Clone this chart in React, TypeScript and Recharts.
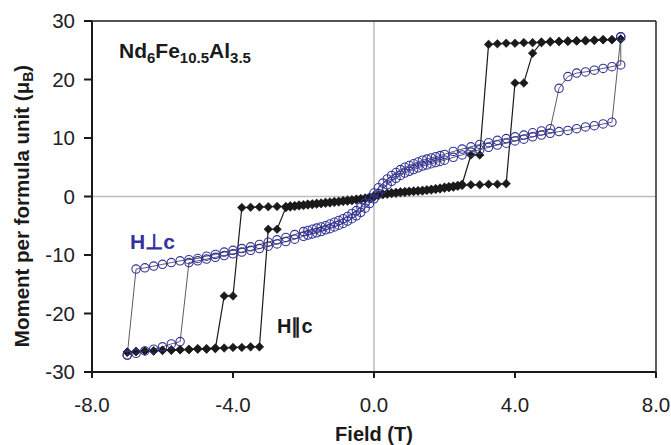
import React from "react";
import { ScatterChart, Scatter, XAxis, YAxis, ReferenceLine } from "recharts";

// [field (T), moment (μB/f.u.)] in measurement order
const parallelDown: [number, number][] = [
  [7.0, 26.9], [6.75, 26.8], [6.5, 26.8], [6.25, 26.7], [6.0, 26.7], [5.75, 26.6], [5.5, 26.6], [5.25, 26.5],
  [5.0, 26.5], [4.75, 26.4], [4.5, 26.3], [4.25, 26.3], [4.0, 26.2], [3.75, 26.2], [3.5, 26.1], [3.25, 26.0],
  [3.0, 7.1], [2.75, 7.1],
  [2.5, 2.1], [2.375, 1.9], [2.25, 1.8], [2.125, 1.7], [2.0, 1.6], [1.875, 1.45], [1.75, 1.35], [1.625, 1.25],
  [1.5, 1.15], [1.375, 1.05], [1.25, 1.0], [1.125, 0.95], [1.0, 0.9], [0.875, 0.85], [0.75, 0.8], [0.625, 0.7],
  [0.5, 0.65], [0.375, 0.55], [0.25, 0.45], [0.125, 0.3], [0, 0.15], [-0.125, -0.1], [-0.25, -0.25], [-0.375, -0.35],
  [-0.5, -0.45], [-0.625, -0.55], [-0.75, -0.6], [-0.875, -0.7], [-1.0, -0.8], [-1.125, -0.85], [-1.25, -0.95],
  [-1.375, -1.0], [-1.5, -1.1], [-1.625, -1.15], [-1.75, -1.25], [-1.875, -1.3], [-2.0, -1.4], [-2.125, -1.45],
  [-2.25, -1.55], [-2.375, -1.6], [-2.5, -1.7], [-2.75, -1.7], [-3.0, -1.75], [-3.25, -1.8], [-3.5, -1.85], [-3.75, -1.9],
  [-4.0, -17.0], [-4.25, -17.0],
  [-4.5, -26.0], [-4.75, -26.1], [-5.0, -26.1], [-5.25, -26.2], [-5.5, -26.2], [-5.75, -26.3], [-6.0, -26.3],
  [-6.25, -26.4], [-6.5, -26.4], [-6.75, -26.5], [-7.0, -26.6],
];

const parallelUp: [number, number][] = [
  [-7.0, -26.6], [-6.75, -26.5], [-6.5, -26.4], [-6.25, -26.4], [-6.0, -26.3], [-5.75, -26.2], [-5.5, -26.2],
  [-5.25, -26.1], [-5.0, -26.0], [-4.75, -26.0], [-4.5, -25.9], [-4.25, -25.9], [-4.0, -25.8], [-3.75, -25.8],
  [-3.5, -25.7], [-3.25, -25.7],
  [-3.0, -5.6], [-2.75, -5.6],
  [-2.5, -1.9], [-2.375, -1.8], [-2.25, -1.7], [-2.125, -1.6], [-2.0, -1.55], [-1.875, -1.45], [-1.75, -1.4],
  [-1.625, -1.3], [-1.5, -1.25], [-1.375, -1.15], [-1.25, -1.1], [-1.125, -1.0], [-1.0, -0.95], [-0.875, -0.85],
  [-0.75, -0.8], [-0.625, -0.7], [-0.5, -0.6], [-0.375, -0.5], [-0.25, -0.4], [-0.125, -0.25], [0, -0.1],
  [0.125, 0.15], [0.25, 0.3], [0.375, 0.4], [0.5, 0.5], [0.625, 0.55], [0.75, 0.65], [0.875, 0.7], [1.0, 0.8],
  [1.125, 0.85], [1.25, 0.9], [1.375, 0.95], [1.5, 1.05], [1.625, 1.1], [1.75, 1.2], [1.875, 1.3], [2.0, 1.4],
  [2.125, 1.5], [2.25, 1.6], [2.375, 1.75], [2.5, 1.9], [2.75, 2.0], [3.0, 2.0], [3.25, 2.1], [3.5, 2.1], [3.75, 2.2],
  [4.0, 19.4], [4.25, 19.4],
  [4.5, 24.5], [4.75, 26.3], [5.0, 26.4], [5.25, 26.5], [5.5, 26.5], [5.75, 26.6], [6.0, 26.6], [6.25, 26.7],
  [6.5, 26.8], [6.75, 26.8], [7.0, 26.9],
];

const perpUp: [number, number][] = [
  [-7.0, -27.1], [-6.75, -26.8], [-6.5, -26.4], [-6.25, -26.1], [-6.0, -25.7], [-5.75, -25.2], [-5.5, -24.8],
  [-5.25, -11.3], [-5.0, -11.0], [-4.75, -10.7], [-4.5, -10.4], [-4.25, -10.1], [-4.0, -9.8], [-3.75, -9.5],
  [-3.5, -9.2], [-3.25, -8.9], [-3.0, -8.5], [-2.75, -8.1], [-2.5, -7.7], [-2.25, -7.3], [-2.0, -6.8],
  [-1.875, -6.6], [-1.75, -6.4], [-1.625, -6.2], [-1.5, -6.0], [-1.375, -5.7], [-1.25, -5.5], [-1.125, -5.2],
  [-1.0, -4.9], [-0.875, -4.6], [-0.75, -4.2], [-0.625, -3.8], [-0.5, -3.3], [-0.375, -2.7], [-0.25, -2.0],
  [-0.125, -1.2], [0, -0.4], [0.125, 0.5], [0.25, 1.3], [0.375, 2.0], [0.5, 2.6], [0.625, 3.1], [0.75, 3.6],
  [0.875, 4.0], [1.0, 4.3], [1.125, 4.6], [1.25, 4.9], [1.375, 5.2], [1.5, 5.4], [1.625, 5.6], [1.75, 5.8],
  [1.875, 6.0], [2.0, 6.2], [2.25, 6.7], [2.5, 7.1], [2.75, 7.6], [3.0, 8.0], [3.25, 8.4], [3.5, 8.8], [3.75, 9.1],
  [4.0, 9.5], [4.25, 9.8], [4.5, 10.2], [4.75, 10.5], [5.0, 10.8], [5.25, 11.1], [5.5, 11.3], [5.75, 11.6],
  [6.0, 11.9], [6.25, 12.1], [6.5, 12.4], [6.75, 12.7],
  [7.0, 27.3],
];

const perpDown: [number, number][] = [
  [7.0, 27.3], [7.0, 22.5], [6.75, 22.2], [6.5, 21.9], [6.25, 21.6], [6.0, 21.3], [5.75, 21.1], [5.5, 20.5], [5.25, 18.5],
  [5.0, 11.6], [4.75, 11.2], [4.5, 10.9], [4.25, 10.5], [4.0, 10.2], [3.75, 9.9], [3.5, 9.6], [3.25, 9.2],
  [3.0, 8.9], [2.75, 8.5], [2.5, 8.1], [2.25, 7.7], [2.0, 7.2], [1.875, 7.0], [1.75, 6.8], [1.625, 6.6],
  [1.5, 6.4], [1.375, 6.2], [1.25, 5.9], [1.125, 5.6], [1.0, 5.3], [0.875, 5.0], [0.75, 4.6], [0.625, 4.1],
  [0.5, 3.6], [0.375, 3.0], [0.25, 2.3], [0.125, 1.5], [0, 0.6], [-0.125, -0.3], [-0.25, -1.1], [-0.375, -1.8],
  [-0.5, -2.4], [-0.625, -2.9], [-0.75, -3.4], [-0.875, -3.8], [-1.0, -4.1], [-1.125, -4.4], [-1.25, -4.7],
  [-1.375, -5.0], [-1.5, -5.2], [-1.625, -5.4], [-1.75, -5.6], [-1.875, -5.8], [-2.0, -6.0], [-2.25, -6.5],
  [-2.5, -7.0], [-2.75, -7.4], [-3.0, -7.8], [-3.25, -8.2], [-3.5, -8.6], [-3.75, -8.9], [-4.0, -9.2],
  [-4.25, -9.5], [-4.5, -9.9], [-4.75, -10.2], [-5.0, -10.6], [-5.25, -10.8], [-5.5, -11.0], [-5.75, -11.3],
  [-6.0, -11.6], [-6.25, -11.9], [-6.5, -12.2], [-6.75, -12.4],
  [-7.0, -27.1],
];

const fieldTicks = [-8, -4, 0, 4, 8];
const momentTicks = [-30, -20, -10, 0, 10, 20, 30];

const FONT = '"Liberation Sans", Arial, sans-serif';
const BLUE = "#333399";
const INK = "#1a1a1a";

const toRows = (pts: [number, number][]) => pts.map(([h, m]) => ({ h, m }));

const Diamond = (p: any) => {
  const { cx, cy } = p;
  if (cx == null || cy == null) return null;
  const r = 4.3;
  return <path d={`M${cx},${cy - r}L${cx + r},${cy}L${cx},${cy + r}L${cx - r},${cy}Z`} fill={INK} stroke={INK} strokeWidth={0.6} />;
};

const Ring = (p: any) => {
  const { cx, cy } = p;
  if (cx == null || cy == null) return null;
  return <circle cx={cx} cy={cy} r={4.2} fill="none" stroke={BLUE} strokeWidth={1.1} />;
};

const tickStyle = { fontFamily: FONT, fontSize: 20.5, fill: "#222" };
const sub = (size: number) => ({ fontSize: size, verticalAlign: "-0.3em" });

export default function App() {
  return (
    <div style={{ position: "absolute", left: 0, top: 0, width: 671, height: 445, background: "#fff", fontFamily: FONT }}>
      <ScatterChart width={671} height={445} margin={{ top: 21, right: 15, bottom: 43, left: 42 }}>
        <XAxis type="number" dataKey="h" domain={[-8, 8]} ticks={fieldTicks} tickFormatter={(v) => v.toFixed(1)}
          height={30} stroke={INK} strokeWidth={2} tickSize={6} tickMargin={19} tick={tickStyle} allowDataOverflow />
        <YAxis type="number" dataKey="m" domain={[-30, 30]} ticks={momentTicks} width={50}
          stroke={INK} strokeWidth={2} tickSize={8} tickMargin={9} tick={tickStyle} allowDataOverflow />
        <ReferenceLine x={0} stroke="#bdbdbd" strokeWidth={1.5} />
        <ReferenceLine y={0} stroke="#bdbdbd" strokeWidth={1.5} />
        <ReferenceLine x={8} stroke={INK} strokeWidth={1.4} />
        <ReferenceLine y={30} stroke={INK} strokeWidth={1.4} />
        <Scatter data={toRows(parallelDown)} line={{ stroke: INK, strokeWidth: 1.2 }} lineType="joint"
          shape={Diamond} isAnimationActive={false} />
        <Scatter data={toRows(parallelUp)} line={{ stroke: INK, strokeWidth: 1.2 }} lineType="joint"
          shape={Diamond} isAnimationActive={false} />
        <Scatter data={toRows(perpUp)} line={{ stroke: "#333", strokeWidth: 0.8 }} lineType="joint"
          shape={Ring} isAnimationActive={false} />
        <Scatter data={toRows(perpDown)} line={{ stroke: "#333", strokeWidth: 0.8 }} lineType="joint"
          shape={Ring} isAnimationActive={false} />
      </ScatterChart>

      <div style={{ position: "absolute", left: 119, top: 41, fontSize: 21, lineHeight: "20px", fontWeight: 700, color: INK, whiteSpace: "nowrap" }}>
        Nd<span style={sub(15)}>6</span>Fe<span style={sub(15)}>10.5</span>Al<span style={sub(15)}>3.5</span>
      </div>
      <div style={{ position: "absolute", left: 130, top: 232, fontSize: 21, lineHeight: "20px", fontWeight: 700, color: BLUE, whiteSpace: "nowrap" }}>
        H⊥c
      </div>
      <div style={{ position: "absolute", left: 277, top: 316, fontSize: 20, lineHeight: "20px", fontWeight: 700, color: INK, whiteSpace: "nowrap" }}>
        H∥c
      </div>
      <div style={{ position: "absolute", left: 274, width: 200, top: 424, textAlign: "center", fontSize: 20, lineHeight: "20px", fontWeight: 700, color: INK }}>
        Field (T)
      </div>
      <div style={{ position: "absolute", left: 22 - 170, top: 206 - 12, width: 340, height: 24, lineHeight: "24px", textAlign: "center",
        transform: "rotate(-90deg)", fontSize: 20.5, fontWeight: 700, color: INK, whiteSpace: "nowrap" }}>
        Moment per formula unit (μ<span style={sub(14)}>B</span>)
      </div>
    </div>
  );
}
